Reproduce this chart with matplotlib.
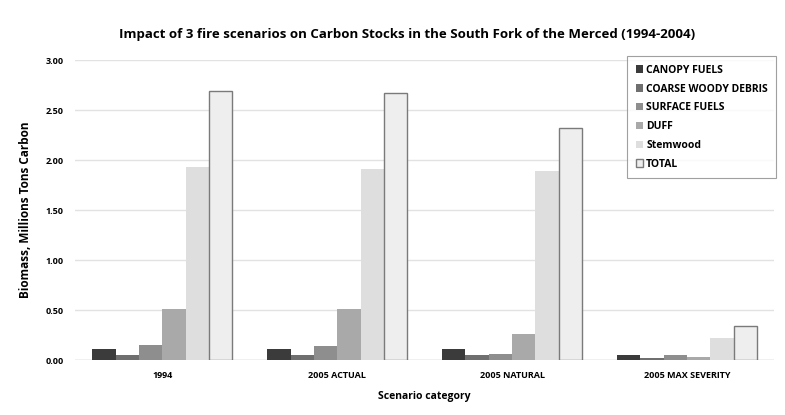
import numpy as np
import matplotlib
matplotlib.use("Agg")
import matplotlib.pyplot as plt

plt.rcParams['font.family'] = ['Open Sans', 'DejaVu Sans']

categories = ['1994', '2005 ACTUAL', '2005 NATURAL', '2005 MAX SEVERITY']
series_names = ['CANOPY FUELS', 'COARSE WOODY DEBRIS', 'SURFACE FUELS', 'DUFF', 'Stemwood', 'TOTAL']
canopy = [0.11, 0.11, 0.11, 0.05]
cwd = [0.05, 0.05, 0.05, 0.02]
surface = [0.15, 0.14, 0.06, 0.05]
duff = [0.51, 0.51, 0.26, 0.03]
stemwood = [1.93, 1.91, 1.89, 0.22]
total = [2.69, 2.67, 2.32, 0.34]
yticks = [0.0, 0.5, 1.0, 1.5, 2.0, 2.5, 3.0]

series = [canopy, cwd, surface, duff, stemwood, total]
colors = ['#3b3b3b', '#6f6f6f', '#8e8e8e', '#a9a9a9', '#dedede', '#eeeeee']
edges = ['none', 'none', 'none', 'none', 'none', '#7a7a7a']

fig = plt.figure(figsize=(7.85, 4.15), dpi=100)
ax = fig.add_axes([0.0955, 0.1325, 0.891, 0.7225])

x = np.arange(len(categories))
w = 0.8 / 6
for i, (vals, name) in enumerate(zip(series, series_names)):
    ax.bar(x - 0.4 + w * (i + 0.5), vals, w, color=colors[i], edgecolor=edges[i],
           linewidth=1.0, label=name, zorder=3)

ax.set_xlim(-0.5, 3.5)
ax.set_ylim(0, 3.0)
ax.set_yticks(yticks)
ax.set_yticklabels([f'{v:.2f}' for v in yticks], fontsize=6.5, fontweight='bold')
ax.set_xticks(x)
ax.set_xticklabels(categories, fontsize=6.5, fontweight='bold')
ax.tick_params(length=0, pad=8)
ax.grid(axis='y', color='#e2e2e2', linewidth=1.0, zorder=0)
for s in ax.spines.values():
    s.set_visible(False)
ax.axhline(0, color='#cccccc', linewidth=1.0, zorder=2)

ax.set_title('Impact of 3 fire scenarios on Carbon Stocks in the South Fork of the Merced (1994-2004)',
             fontsize=9.5, fontweight='bold', pad=16, x=0.475)
ax.set_xlabel('Scenario category', fontsize=7.5, fontweight='bold', labelpad=8)
ax.set_ylabel('Biomass, Millions Tons Carbon', fontsize=8.5, fontweight='bold', labelpad=10)

leg = ax.legend(loc='upper right', bbox_to_anchor=(1.01, 1.03), prop={'weight': 'bold', 'size': 7.5},
                frameon=True, fancybox=False, edgecolor='#888888', handlelength=0.7,
                handleheight=0.7, handletextpad=0.3, labelspacing=0.75, borderpad=0.8)
leg.get_frame().set_linewidth(0.8)

fig.savefig('out.png', dpi=100)
